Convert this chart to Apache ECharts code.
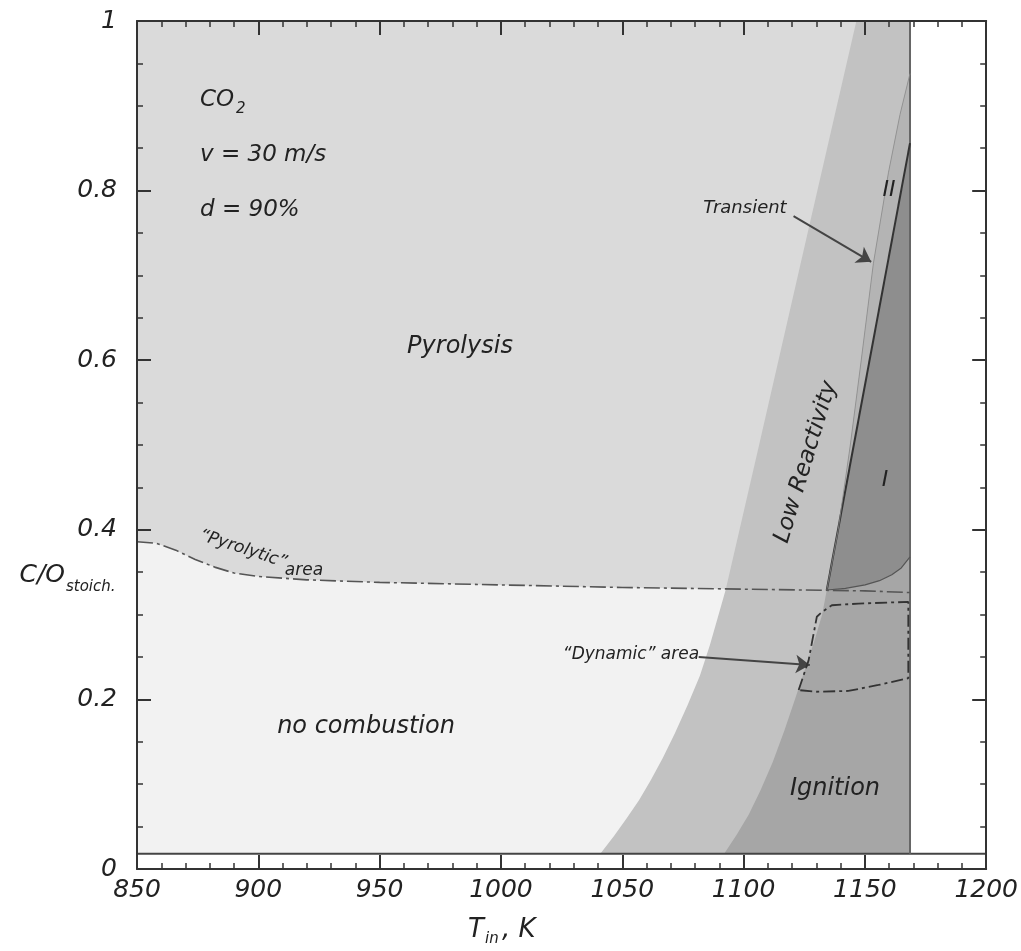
<!DOCTYPE html>
<html>
<head>
<meta charset="utf-8">
<script src="https://cdn.jsdelivr.net/npm/echarts@6/dist/echarts.min.js"></script>
<style>
  html, body { margin: 0; padding: 0; background: #ffffff; overflow: hidden; }
  #chart { width: 100vw; height: 100vh; }
</style>
</head>
<body>
<div id="chart"></div>
<script>
// Regime map of C/O ratio versus inlet temperature (CO2, v = 30 m/s, d = 90%)
const xTicks = [850, 900, 950, 1000, 1050, 1100, 1150, 1200];
const yTicks = [0, 0.2, 0.4, 0.6, 0.8, 1];

// lower limit of the shaded map and the right-hand wall of the computed region
const mapFloor = 0.018;
const mapWall = 1168.6;

// "Pyrolytic" area boundary (dash-dot)
const pyrolyticLine = [
  [850, 0.386], [858, 0.384], [866, 0.376], [874, 0.365], [882, 0.356],
  [890, 0.349], [900, 0.345], [920, 0.341], [950, 0.338], [1000, 0.335],
  [1050, 0.332], [1100, 0.330], [1150, 0.328], [1168.6, 0.326]
];

// left edge of the low-reactivity band
const lowReactivityEdge = [
  [1041.2, 0.019], [1046.6, 0.039], [1051.9, 0.060], [1056.9, 0.081],
  [1061.8, 0.105], [1066.7, 0.131], [1071.7, 0.160], [1076.9, 0.193],
  [1082.0, 0.228], [1086.1, 0.264], [1089.4, 0.297], [1092.6, 0.329],
  [1106.4, 0.5], [1126.4, 0.75], [1146.5, 1.0]
];

// left edge of the ignition region
const ignitionEdge = [
  [1092.2, 0.019], [1097.1, 0.040], [1102.1, 0.064], [1107.0, 0.093],
  [1112.0, 0.126], [1116.9, 0.164], [1121.4, 0.202], [1125.5, 0.237],
  [1129.3, 0.270], [1132.4, 0.300], [1134.3, 0.329]
];

// left edge of the transient strip (II)
const transientEdge = [
  [1134.3, 0.329], [1139, 0.40], [1144, 0.50], [1148.5, 0.60],
  [1153.5, 0.714], [1159.7, 0.821], [1164.5, 0.89], [1168.6, 0.938]
];

// boundary of region I (solid line) and its lower curve
const regionIEdge = [[1134.3, 0.329], [1168.6, 0.856]];
const regionIFloor = [
  [1134.3, 0.329], [1142, 0.331], [1150.1, 0.335], [1156, 0.340],
  [1161.1, 0.347], [1165, 0.355], [1168.6, 0.368]
];

// "Dynamic" area outline (closed, dash-dot)
const dynamicArea = [
  [1122.7, 0.211], [1126.8, 0.246], [1130.2, 0.2975], [1132.3, 0.303],
  [1136.4, 0.311], [1147.4, 0.313], [1167.9, 0.315], [1167.9, 0.225],
  [1155.6, 0.217], [1143.2, 0.210], [1129.5, 0.209], [1122.7, 0.211]
];

// arrows: [from, to]
const transientArrow = [[1120.6, 0.770], [1152.6, 0.716]];
const dynamicArrow = [[1081.5, 0.250], [1127.3, 0.2406]];

const font = 'DejaVu Sans';
const ink = '#222';

const chart = echarts.init(document.getElementById('chart'), null, { renderer: 'canvas' });

function polygonSeries(points, fill, z) {
  return {
    type: 'custom',
    xAxisIndex: 0, yAxisIndex: 0,
    silent: true,
    z: z,
    data: [[points[0][0], points[0][1]]],
    renderItem: function (params, api) {
      return {
        type: 'polygon',
        shape: { points: points.map(function (p) { return api.coord(p); }) },
        style: { fill: fill, stroke: null }
      };
    }
  };
}

function lineSeries(points, style, z, extra) {
  return Object.assign({
    type: 'line',
    xAxisIndex: 0, yAxisIndex: 0,
    data: points,
    showSymbol: false,
    symbol: 'none',
    silent: true,
    smooth: false,
    z: z,
    lineStyle: style
  }, extra || {});
}

const pyrolysisRegion = [[850, mapFloor], [mapWall, mapFloor], [mapWall, 1], [850, 1]];
const noCombustionRegion = pyrolyticLine.concat([[mapWall, mapFloor], [850, mapFloor]]);
const lowReactivityRegion = lowReactivityEdge.concat([[mapWall, 1], [mapWall, mapFloor]]);
const ignitionRegion = ignitionEdge.concat(transientEdge.slice(1), [[mapWall, mapFloor]]);
const transientRegion = transientEdge.concat(regionIEdge.slice().reverse());
const regionI = regionIEdge.concat([[mapWall, regionIFloor[regionIFloor.length - 1][1]]],
  regionIFloor.slice(0, -1).reverse());

const axisColor = '#333';
const labelStyle = { fontFamily: font, fontStyle: 'italic', fontSize: 25, color: ink };

function xAxisDef(pos, labels) {
  return {
    type: 'value', position: pos, min: 850, max: 1200, interval: 50, z: 30,
    axisLine: { show: true, onZero: false, lineStyle: { color: axisColor, width: 2 } },
    axisTick: { show: true, inside: true, length: 14, lineStyle: { color: axisColor, width: 2 } },
    minorTick: { show: true, splitNumber: 5, length: 6, lineStyle: { color: axisColor, width: 1.5 } },
    splitLine: { show: false },
    axisLabel: Object.assign({
      show: labels, margin: 9,
      formatter: function (v) { return String(Math.round(v)); }
    }, labelStyle)
  };
}
function yAxisDef(pos, labels) {
  return {
    type: 'value', position: pos, min: 0, max: 1, interval: 0.2, z: 30,
    axisLine: { show: true, onZero: false, lineStyle: { color: axisColor, width: 2 } },
    axisTick: { show: true, inside: true, length: 14, lineStyle: { color: axisColor, width: 2 } },
    minorTick: { show: true, splitNumber: 4, length: 6, lineStyle: { color: axisColor, width: 1.5 } },
    splitLine: { show: false },
    axisLabel: Object.assign({
      show: labels, margin: 20,
      formatter: function (v) { return String(+v.toFixed(1)); }
    }, labelStyle)
  };
}

function txt(text, x, y, size, opts) {
  return Object.assign({
    type: 'text', x: x, y: y, z: 100, silent: true,
    style: Object.assign({
      text: text, fontFamily: font, fontStyle: 'italic', fontSize: size, fill: ink,
      textAlign: 'center', textVerticalAlign: 'middle'
    }, (opts && opts.style) || {})
  }, (opts && opts.el) || {});
}

const option = {
  animation: false,
  backgroundColor: '#ffffff',
  grid: { left: 137, right: 33, top: 21, bottom: 82, containLabel: false },
  xAxis: [xAxisDef('bottom', true), xAxisDef('top', false)],
  yAxis: [yAxisDef('left', true), yAxisDef('right', false)],
  series: [
    polygonSeries(pyrolysisRegion, '#dadada', 1),
    polygonSeries(noCombustionRegion, '#f2f2f2', 2),
    polygonSeries(lowReactivityRegion, '#c2c2c2', 3),
    polygonSeries(ignitionRegion, '#a6a6a6', 4),
    polygonSeries(transientRegion, '#b4b4b4', 5),
    polygonSeries(regionI, '#8e8e8e', 6),
    // floor of the map
    lineSeries([[850, mapFloor], [1200, mapFloor]], { color: '#444', width: 2 }, 10),
    // right-hand wall
    lineSeries([[mapWall, mapFloor], [mapWall, 1]], { color: '#666', width: 2 }, 10),
    // region I boundary
    lineSeries(regionIEdge, { color: '#333', width: 2 }, 11),
    lineSeries(regionIFloor, { color: '#555', width: 1.2 }, 11),
    lineSeries(transientEdge, { color: '#8a8a8a', width: 0.8 }, 11),
    // pyrolytic boundary with arrows
    lineSeries(pyrolyticLine, { color: '#555', width: 1.6, type: [16, 4, 3, 4] }, 12, {
      markLine: {
        silent: true,
        symbol: ['none', 'arrow'],
        symbolSize: 14,
        label: { show: false },
        lineStyle: { color: '#444', width: 2, type: 'solid' },
        data: [
          [{ coord: transientArrow[0] }, { coord: transientArrow[1] }],
          [{ coord: dynamicArrow[0] }, { coord: dynamicArrow[1] }]
        ]
      }
    }),
    lineSeries(dynamicArea, { color: '#333', width: 1.8, type: [12, 4, 3, 4] }, 12)
  ],
  graphic: [
    txt('CO', 200, 100, 23, { style: { textAlign: 'left' } }),
    txt('2', 236, 109, 15, { style: { textAlign: 'left' } }),
    txt('v = 30 m/s', 200, 155, 23, { style: { textAlign: 'left' } }),
    txt('d = 90%', 200, 210, 23, { style: { textAlign: 'left' } }),
    txt('Pyrolysis', 460, 347, 24),
    txt('no combustion', 366, 727, 24),
    txt('Ignition', 835, 789, 24),
    txt('Low Reactivity', 806, 462, 23, { el: { rotation: 73 * Math.PI / 180 } }),
    txt('I', 885, 480, 22),
    txt('II', 889, 190, 22),
    txt('Transient', 745, 208, 18),
    txt('\u201cDynamic\u201d area', 631, 655, 17),
    txt('\u201cPyrolytic\u201d', 243, 549, 17, { el: { rotation: -18 * Math.PI / 180 } }),
    txt('area', 304, 571, 17),
    // axis titles
    txt('C/O', 65, 575, 25, { style: { textAlign: 'right' } }),
    txt('stoich.', 66, 587, 15, { style: { textAlign: 'left' } }),
    txt('T', 468, 930, 26, { style: { textAlign: 'left' } }),
    txt('in', 485, 939, 15, { style: { textAlign: 'left' } }),
    txt(', K', 502, 930, 26, { style: { textAlign: 'left' } })
  ]
};

chart.setOption(option);
</script>
</body>
</html>
